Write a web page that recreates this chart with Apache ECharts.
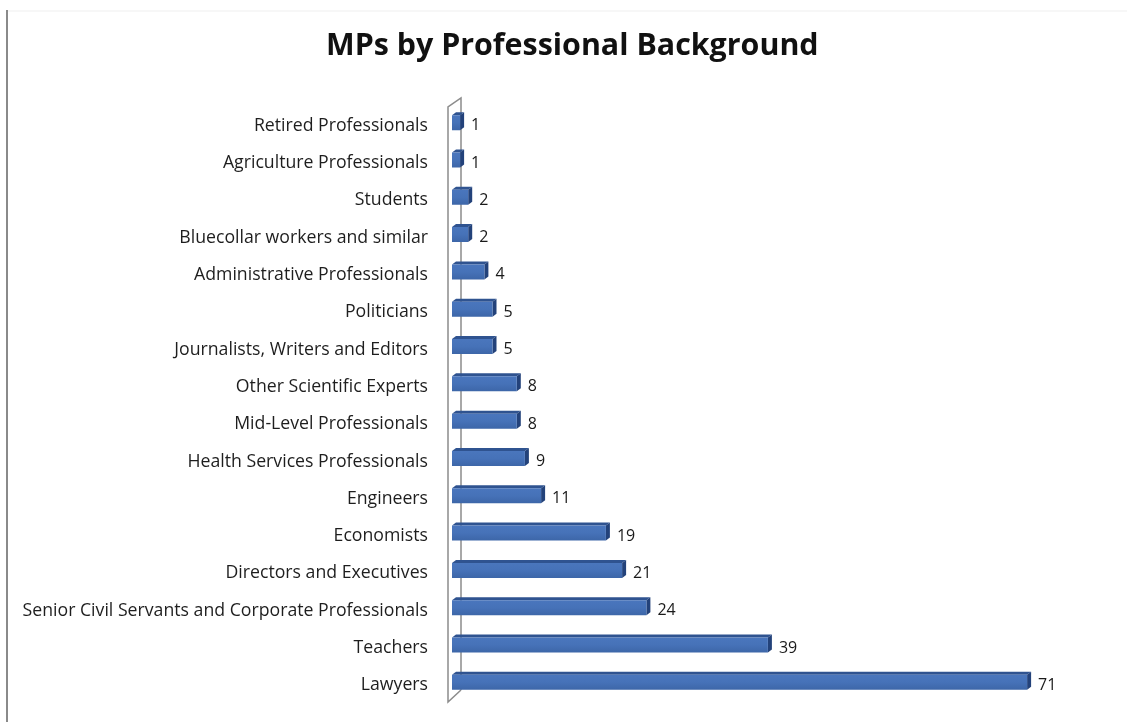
<!DOCTYPE html>
<html>
<head>
<meta charset="utf-8">
<script src="https://cdn.jsdelivr.net/npm/echarts@6/dist/echarts.min.js"></script>
<style>
html,body{margin:0;padding:0;background:#fff;}
#chart{width:1127px;height:722px;}
</style>
</head>
<body>
<div id="chart"></div>
<script>
// categories listed bottom to top
const categories = [
  "Lawyers",
  "Teachers",
  "Senior Civil Servants and Corporate Professionals",
  "Directors and Executives",
  "Economists",
  "Engineers",
  "Health Services Professionals",
  "Mid-Level Professionals",
  "Other Scientific Experts",
  "Journalists, Writers and Editors",
  "Politicians",
  "Administrative Professionals",
  "Bluecollar workers and similar",
  "Students",
  "Agriculture Professionals",
  "Retired Professionals"
];
const values = [71, 39, 24, 21, 19, 11, 9, 8, 8, 5, 5, 4, 2, 2, 1, 1];
const titleText = "MPs by Professional Background";

const FONT = "'Open Sans', Lato, sans-serif";
const chart = echarts.init(document.getElementById('chart'), null, {renderer: 'canvas'});

const BAR_H = 15, DEPTH = 4, LIFT = 3;

function renderBar(params, api) {
  const idx = api.value(0);
  const v = api.value(1);
  const p0 = api.coord([0, idx]);
  const p1 = api.coord([v, idx]);
  const x0 = p0[0], x1 = p1[0];
  const yc = p0[1] - LIFT;
  const yt = yc - BAR_H / 2, yb = yc + BAR_H / 2;
  return {
    type: 'group',
    children: [
      { // top face
        type: 'polygon',
        shape: {points: [[x0, yt], [x0 + DEPTH, yt - DEPTH + 1], [x1 + DEPTH, yt - DEPTH + 1], [x1, yt]]},
        style: {fill: '#2f5390'}
      },
      { // side face
        type: 'polygon',
        shape: {points: [[x1, yt], [x1 + DEPTH, yt - DEPTH + 1], [x1 + DEPTH, yb - DEPTH + 1], [x1, yb]]},
        style: {fill: '#23427a'}
      },
      { // front face
        type: 'rect',
        shape: {x: x0, y: yt, width: x1 - x0, height: BAR_H},
        style: {
          fill: new echarts.graphic.LinearGradient(0, 0, 0, 1, [
            {offset: 0, color: '#4a76bd'},
            {offset: 0.5, color: '#4672b8'},
            {offset: 1, color: '#3d66a8'}
          ])
        }
      },
      {
        type: 'text',
        style: {
          text: String(v),
          x: x1 + DEPTH + 7,
          y: p0[1],
          verticalAlign: 'middle',
          align: 'left',
          fill: '#1a1a1a',
          font: '16px ' + FONT
        }
      }
    ]
  };
}

const option = {
  animation: false,
  backgroundColor: '#ffffff',
  title: {
    text: titleText,
    left: 321,
    top: 26,
    textStyle: {fontFamily: FONT, fontWeight: 'bold', fontSize: 30.4, color: '#111'}
  },
  grid: {left: 452, right: 27, top: 107, bottom: 18, containLabel: false},
  xAxis: {
    type: 'value', min: 0, max: 80,
    show: false
  },
  yAxis: {
    type: 'category',
    data: categories,
    axisLine: {show: false},
    axisTick: {show: false},
    axisLabel: {
      margin: 24,
      fontFamily: FONT,
      fontSize: 17.7,
      color: '#1e1e1e'
    }
  },
  series: [{
    type: 'custom',
    renderItem: renderBar,
    encode: {x: 1, y: 0},
    data: values.map((v, i) => [i, v]),
    z: 5
  }]
};
chart.setOption(option);

// 3D wall behind the bars, positioned from the grid
const base = chart.convertToPixel({gridIndex: 0}, [0, 0]);
const topY = 107, botY = 722 - 18;
const xl = base[0] - 4, xr = base[0] + 9;
chart.setOption({
  graphic: [
    {type: 'polyline', shape: {points: [[xr, botY - 14], [xl, botY - 2], [xl, topY], [xr, topY - 9], [xr, botY - 14]]},
     style: {stroke: '#8c8c8c', lineWidth: 1.5, fill: '#ffffff'}, z: 0, silent: true},
    {type: 'line', shape: {x1: 7, y1: 10, x2: 7, y2: 722}, style: {stroke: '#8a8a8a', lineWidth: 2}, z: 0},
    {type: 'line', shape: {x1: 8, y1: 11, x2: 1127, y2: 11}, style: {stroke: '#efefef', lineWidth: 1}, z: 0}
  ]
});
</script>
</body>
</html>
